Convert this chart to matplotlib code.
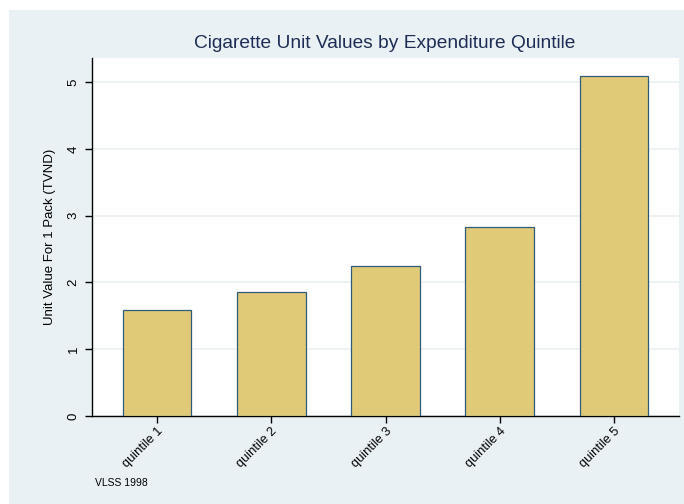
import matplotlib
matplotlib.use("Agg")
import matplotlib.pyplot as plt
from matplotlib.patches import Rectangle

categories = ["quintile 1", "quintile 2", "quintile 3", "quintile 4", "quintile 5"]
values = [1.59, 1.85, 2.25, 2.83, 5.09]
yticks = [0, 1, 2, 3, 4, 5]

plt.rcParams['font.family'] = ['Liberation Sans', 'DejaVu Sans']

fig = plt.figure(figsize=(6.84, 5.04), dpi=100, facecolor='white')
panel = Rectangle((9/684, 0), 1 - 9/684, 1 - 10/504, transform=fig.transFigure,
                  facecolor='#EAF1F4', edgecolor='none', zorder=-10)
fig.add_artist(panel)

ax = fig.add_axes([92/684, 1 - 416/504, 587/684, 358/504])
ax.set_zorder(1)
ax.set_facecolor('white')
x = list(range(1, len(categories) + 1))
ax.bar(x, values, width=0.6, color='#E0CA78', edgecolor='#2E5B7C', linewidth=0.9, zorder=3)
ax.set_xlim(0.43, 5.57)
ax.set_ylim(0, 5.36)
ax.set_yticks(yticks)
ax.set_yticklabels([str(t) for t in yticks], rotation=90, va='center', fontsize=9.5)
ax.set_xticks(x)
ax.set_xticklabels(categories, rotation=45, ha='right', rotation_mode='anchor', fontsize=9.2)
ax.grid(axis='y', color='#EAF1F1', linewidth=1.2, zorder=0)
for s in ['top', 'right']:
    ax.spines[s].set_visible(False)
ax.spines['left'].set_linewidth(1.0)
ax.spines['bottom'].set_linewidth(1.0)
ax.tick_params(axis='y', length=5, width=1, pad=4)
ax.tick_params(axis='x', length=5, width=1, pad=1.5)
ax.set_ylabel('Unit Value For 1 Pack (TVND)', fontsize=9.5, labelpad=8)
fig.text(385/684, 1 - 48/504, 'Cigarette Unit Values by Expenditure Quintile', ha='center', va='baseline',
         fontsize=13.75, color='#1E2D55')
fig.text(95/684, 1 - 483/504, 'VLSS 1998', ha='left', va='center', fontsize=7.5)

fig.savefig('out.png', dpi=100, facecolor=fig.get_facecolor())
